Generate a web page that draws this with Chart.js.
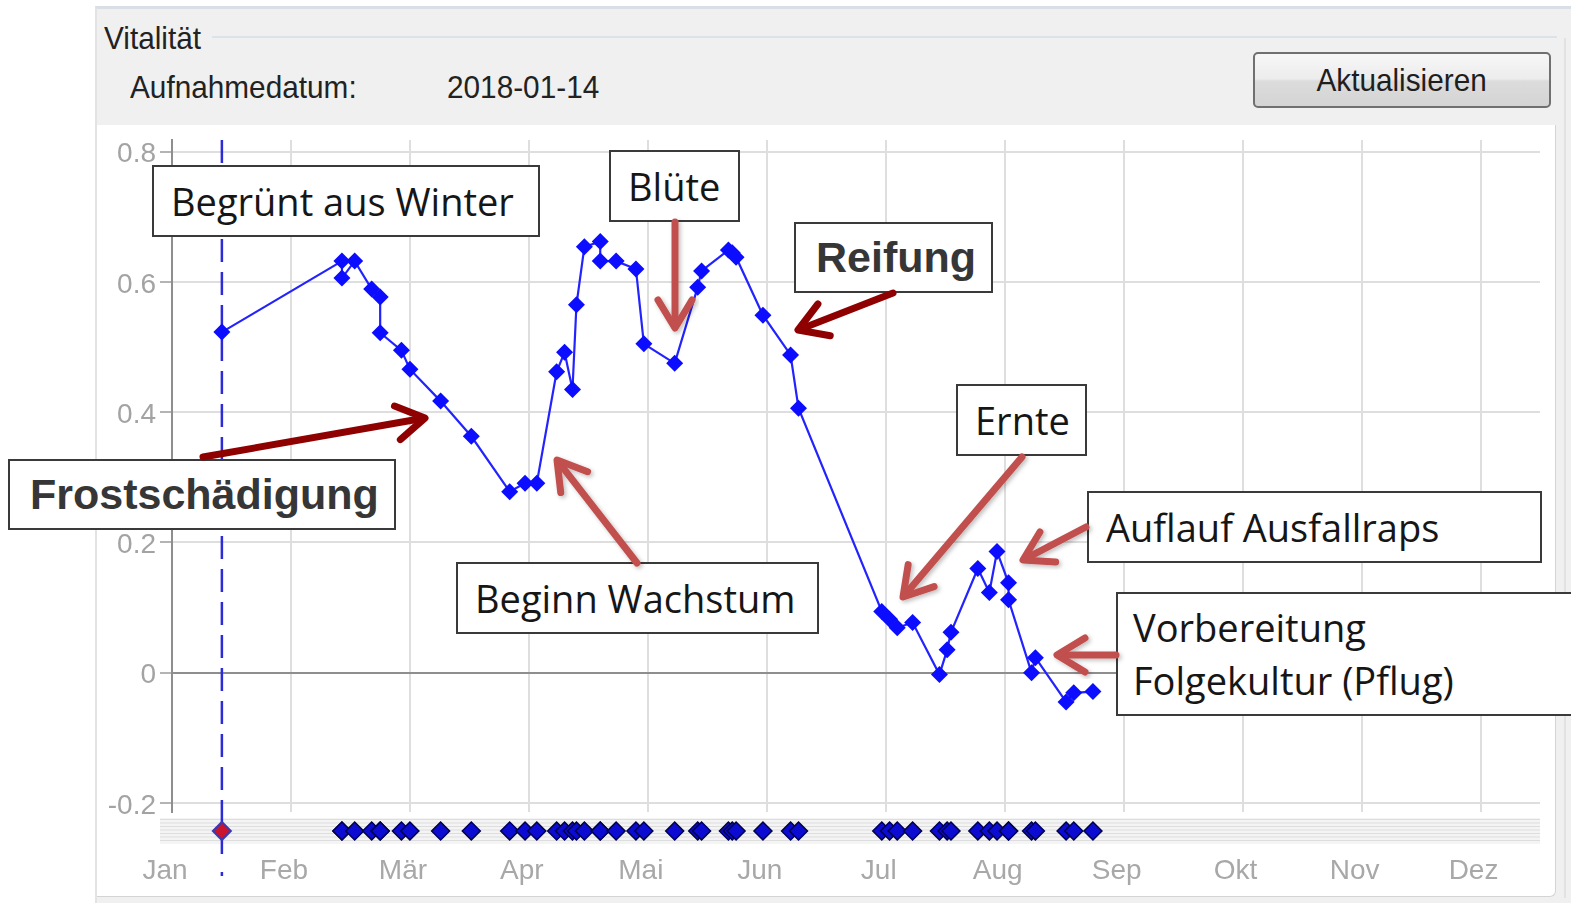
<!DOCTYPE html>
<html lang="de">
<head>
<meta charset="utf-8">
<title>Vitalität</title>
<script src="https://cdn.jsdelivr.net/npm/chart.js@4.4.1/dist/chart.umd.min.js"></script>
<style>
    html, body { margin: 0; padding: 0; background: #fff; }
    #page { position: relative; width: 1571px; height: 903px; overflow: hidden; font-family: "Liberation Sans", Arial, sans-serif; }
    #window { position: absolute; left: 95px; top: 6px; width: 1476px; height: 897px; background: #f0f0f0; border-top: 3px solid #d9dfe5; border-left: 2px solid #e3e3e3; box-sizing: border-box; }
    #groupLine { position: absolute; left: 212px; top: 36px; width: 1345px; height: 2px; background: #dce3e8; }
    #edgeLine { position: absolute; left: 1564px; top: 38px; width: 2px; height: 860px; background: #e2e2e2; }
    #panel { position: absolute; left: 97px; top: 125px; width: 1458px; height: 771px; background: #fff; border-right: 1px solid #d4d4d4; border-bottom: 1px solid #d4d4d4; border-bottom-right-radius: 6px; }
    .ui { position: absolute; font-size: 32px; line-height: 1; color: #222; white-space: nowrap; transform: scaleX(0.93); transform-origin: left center; }
    #btn { position: absolute; left: 1253px; top: 52px; width: 298px; height: 56px; box-sizing: border-box; border: 2px solid #707070; border-radius: 5px;
           background: linear-gradient(#f7f7f7, #ececec 48%, #dcdcdc 52%, #d4d4d4); display: flex; align-items: center; justify-content: center; }
    #btn span { font-size: 32px; color: #1e1e1e; display: inline-block; transform: scaleX(0.93); }
    canvas { position: absolute; left: 0; top: 0; }
    .note { position: absolute; box-sizing: border-box; border: 2px solid #3a3a3a; background: #fff; display: flex; align-items: center;
            padding-left: 17px; font-family: "Open Sans", sans-serif; font-size: 38px; color: #161616; white-space: nowrap; }
    .note.bold { font-family: "Liberation Sans", Arial, sans-serif; font-weight: bold; font-size: 43px; color: #363636; padding-left: 20px; }
    .note.two { flex-direction: column; align-items: flex-start; justify-content: center; line-height: 53px; padding-left: 15px; }
    svg { position: absolute; left: 0; top: 0; }
</style>
</head>
<body>
<div id="page">
    <div id="window"></div>
    <div id="groupLine"></div>
    <div id="edgeLine"></div>
    <div class="ui" style="left:104px; top:22px;">Vitalität</div>
    <div class="ui" style="left:130px; top:71px;">Aufnahmedatum:</div>
    <div class="ui" style="left:447px; top:71px;">2018-01-14</div>
    <div id="btn"><span>Aktualisieren</span></div>
    <div id="panel"></div>

    <canvas id="vitalityChart" width="1571" height="903"></canvas>
    <canvas id="timelineChart" width="1571" height="903"></canvas>

    <div class="note" style="left:152px; top:165px; width:388px; height:72px;">Begrünt aus Winter</div>
    <div class="note" style="left:609px; top:150px; width:131px; height:72px;">Blüte</div>
    <div class="note bold" style="left:794px; top:222px; width:199px; height:71px;">Reifung</div>
    <div class="note bold" style="left:8px; top:459px; width:388px; height:71px;">Frostschädigung</div>
    <div class="note" style="left:456px; top:562px; width:363px; height:72px;">Beginn Wachstum</div>
    <div class="note" style="left:956px; top:384px; width:131px; height:72px;">Ernte</div>
    <div class="note" style="left:1087px; top:491px; width:455px; height:72px;">Auflauf Ausfallraps</div>
    <div class="note two" style="left:1116px; top:592px; width:470px; height:124px;"><div>Vorbereitung</div><div>Folgekultur (Pflug)</div></div>

    <svg id="arrows" width="1571" height="903"></svg>
</div>

<script>
    // Chart data
    const months = ['Jan', 'Feb', 'Mär', 'Apr', 'Mai', 'Jun', 'Jul', 'Aug', 'Sep', 'Okt', 'Nov', 'Dez'];
    const recordDate = '2018-01-14';
    const yTicks = [0.8, 0.6, 0.4, 0.2, 0, -0.2];

    const dates = [
        '2018-01-14', '2018-02-13', '2018-02-13', '2018-02-16', '2018-02-20', '2018-02-22', '2018-02-22', '2018-02-27',
        '2018-03-01', '2018-03-09', '2018-03-17', '2018-03-27', '2018-03-31', '2018-04-03', '2018-04-08', '2018-04-10',
        '2018-04-12', '2018-04-13', '2018-04-15', '2018-04-19', '2018-04-19', '2018-04-23', '2018-04-28', '2018-04-30',
        '2018-05-08', '2018-05-14', '2018-05-15', '2018-05-22', '2018-05-23', '2018-05-24', '2018-05-31', '2018-06-07',
        '2018-06-09', '2018-06-30', '2018-07-02', '2018-07-04', '2018-07-08', '2018-07-15', '2018-07-17', '2018-07-18',
        '2018-07-25', '2018-07-28', '2018-07-30', '2018-08-02', '2018-08-02', '2018-08-08', '2018-08-09', '2018-08-17',
        '2018-08-19', '2018-08-24'
    ];
    const vitality = [
        0.523, 0.632, 0.606, 0.632, 0.589, 0.577, 0.522, 0.495,
        0.466, 0.417, 0.363, 0.278, 0.291, 0.291, 0.462, 0.492,
        0.435, 0.565, 0.654, 0.662, 0.632, 0.632, 0.620, 0.505,
        0.475, 0.592, 0.617, 0.649, 0.645, 0.638, 0.549, 0.488,
        0.406, 0.094, 0.082, 0.069, 0.077, -0.003, 0.035, 0.062,
        0.160, 0.123, 0.186, 0.138, 0.112, 0.000, 0.023, -0.045,
        -0.031, -0.029
    ];

    // date -> position in months (Jan 1 = 0)
    function monthPos(s) {
        const [y, m, d] = s.split('-').map(Number);
        const days = new Date(y, m, 0).getDate();
        return (m - 1) + (d - 1) / days;
    }

    const monthTicks = s => { s.ticks = months.map((m, i) => ({ value: i })); };

    // dashed marker for the selected recording date
    const recordLine = {
        id: 'recordLine',
        beforeDatasetsDraw(chart, args, opts) {
            const { ctx, chartArea: a } = chart;
            const x = chart.scales.x.getPixelForValue(monthPos(recordDate));
            ctx.save();
            ctx.strokeStyle = '#2b2bd8';
            ctx.lineWidth = 2.5;
            ctx.setLineDash(opts.dash || []);
            ctx.beginPath();
            ctx.moveTo(x, a.top + (opts.top || 0));
            ctx.lineTo(x, a.bottom + (opts.bottom || 0));
            ctx.stroke();
            if (opts.dot) {
                ctx.setLineDash([]);
                ctx.beginPath();
                ctx.moveTo(x, a.bottom + opts.dot);
                ctx.lineTo(x, a.bottom + opts.dot + 4);
                ctx.stroke();
            }
            ctx.restore();
        }
    };

    // striped band behind the timeline diamonds
    const stripBand = {
        id: 'stripBand',
        beforeDatasetsDraw(chart) {
            const { ctx, chartArea: a } = chart;
            ctx.save();
            ctx.fillStyle = '#f4f4f4';
            ctx.fillRect(a.left - 12, a.top, a.right - a.left + 12, a.bottom - a.top);
            ctx.strokeStyle = '#dddddd';
            ctx.lineWidth = 1;
            for (let y = a.top + 1.5; y < a.bottom; y += 3.5) {
                ctx.beginPath();
                ctx.moveTo(a.left - 12, y);
                ctx.lineTo(a.right, y);
                ctx.stroke();
            }
            ctx.restore();
        }
    };

    // Vitality line chart
    new Chart(document.getElementById('vitalityChart'), {
        type: 'line',
        data: {
            datasets: [{
                label: 'Vitalität',
                data: dates.map((d, i) => ({ x: monthPos(d), y: vitality[i] })),
                borderColor: '#2323ff',
                borderWidth: 2.2,
                pointStyle: 'rectRot',
                pointRadius: 8.5,
                pointBackgroundColor: '#0c0cff',
                pointBorderWidth: 0,
                tension: 0
            }]
        },
        options: {
            responsive: false,
            animation: false,
            layout: { padding: { left: 102, right: 31, top: 140, bottom: 91 } },
            plugins: {
                legend: { display: false },
                tooltip: { enabled: false },
                recordLine: { dash: [23, 10] }
            },
            scales: {
                x: {
                    type: 'linear',
                    min: 0,
                    max: 11.5,
                    afterBuildTicks: monthTicks,
                    afterFit: s => { s.height = 0; },
                    ticks: { display: false },
                    grid: { color: '#dedede', lineWidth: 2, drawTicks: false },
                    border: { display: false }
                },
                y: {
                    min: -0.214,
                    max: 0.818,
                    afterBuildTicks: s => { s.ticks = yTicks.map(v => ({ value: v })); },
                    afterFit: s => { s.width = 70; },
                    ticks: {
                        color: '#a3a3a3',
                        font: { family: 'Liberation Sans', size: 28 },
                        padding: 4,
                        labelOffset: 3,
                        callback: v => String(v)
                    },
                    grid: {
                        color: c => (c.tick && c.tick.value === 0) ? '#8e8e8e' : '#dedede',
                        lineWidth: 2,
                        tickLength: 12,
                        tickColor: '#b4b4b4'
                    },
                    border: { display: true, color: '#8e8e8e', width: 2 }
                }
            }
        },
        plugins: [recordLine]
    });

    // Timeline strip with one diamond per recording
    new Chart(document.getElementById('timelineChart'), {
        type: 'scatter',
        data: {
            datasets: [{
                label: 'Aufnahmen',
                data: dates.slice(1).map(d => ({ x: monthPos(d), y: 0.5 })),
                pointStyle: 'rectRot',
                pointRadius: 9,
                pointBackgroundColor: '#0b0bd2',
                pointBorderColor: '#00004a',
                pointBorderWidth: 1.5
            }, {
                label: 'Aufnahmedatum',
                data: [{ x: monthPos(recordDate), y: 0.5 }],
                pointStyle: 'rectRot',
                pointRadius: 9,
                pointBackgroundColor: '#c8142c',
                pointBorderColor: '#3a3ab4',
                pointBorderWidth: 2
            }]
        },
        options: {
            responsive: false,
            animation: false,
            layout: { padding: { left: 172, right: 31, top: 818, bottom: 9 } },
            plugins: {
                legend: { display: false },
                tooltip: { enabled: false },
                recordLine: { top: -6, bottom: 10, dot: 28 }
            },
            scales: {
                x: {
                    type: 'linear',
                    min: 0,
                    max: 11.5,
                    afterBuildTicks: monthTicks,
                    afterFit: s => { s.height = 50; },
                    ticks: {
                        color: '#a8a8a8',
                        font: { family: 'Liberation Sans', size: 28 },
                        padding: 10,
                        labelOffset: -7,
                        callback: v => months[Math.round(v)]
                    },
                    grid: { display: false, drawTicks: false },
                    border: { display: false }
                },
                y: { display: false, min: 0, max: 1 }
            }
        },
        plugins: [stripBand, recordLine]
    });

    // Annotation arrows
    const arrows = [
        { from: [203, 457], to: [425, 418], color: '#8f0000', shadow: false },
        { from: [893, 293], to: [798, 330], color: '#8f0000', shadow: false },
        { from: [675, 222], to: [675, 328], color: '#c0504d', shadow: true },
        { from: [637, 563], to: [557, 460], color: '#c0504d', shadow: true },
        { from: [1022, 457], to: [903, 597], color: '#c0504d', shadow: true },
        { from: [1086, 527], to: [1023, 560], color: '#c0504d', shadow: true },
        { from: [1116, 655], to: [1057, 655], color: '#c0504d', shadow: true }
    ];
    const svg = document.getElementById('arrows');
    let markup = '<defs><filter id="sh" x="-20%" y="-20%" width="140%" height="140%">' +
        '<feDropShadow dx="2" dy="2" stdDeviation="2" flood-color="#000" flood-opacity="0.25"/></filter></defs>';
    arrows.forEach(a => {
        const dx = a.to[0] - a.from[0], dy = a.to[1] - a.from[1];
        const len = Math.hypot(dx, dy), ux = dx / len, uy = dy / len;
        const bx = a.to[0] - ux * 28, by = a.to[1] - uy * 28;
        const l = [bx - uy * 17, by + ux * 17], r = [bx + uy * 17, by - ux * 17];
        const f = a.shadow ? ' filter="url(#sh)"' : '';
        markup += '<g stroke="' + a.color + '" stroke-width="7" fill="none" stroke-linecap="round" stroke-linejoin="round"' + f + '>' +
            '<line x1="' + a.from[0] + '" y1="' + a.from[1] + '" x2="' + (a.to[0] - ux * 3) + '" y2="' + (a.to[1] - uy * 3) + '"/>' +
            '<polyline points="' + l.join(',') + ' ' + a.to.join(',') + ' ' + r.join(',') + '"/></g>';
    });
    svg.innerHTML = markup;
</script>
</body>
</html>
